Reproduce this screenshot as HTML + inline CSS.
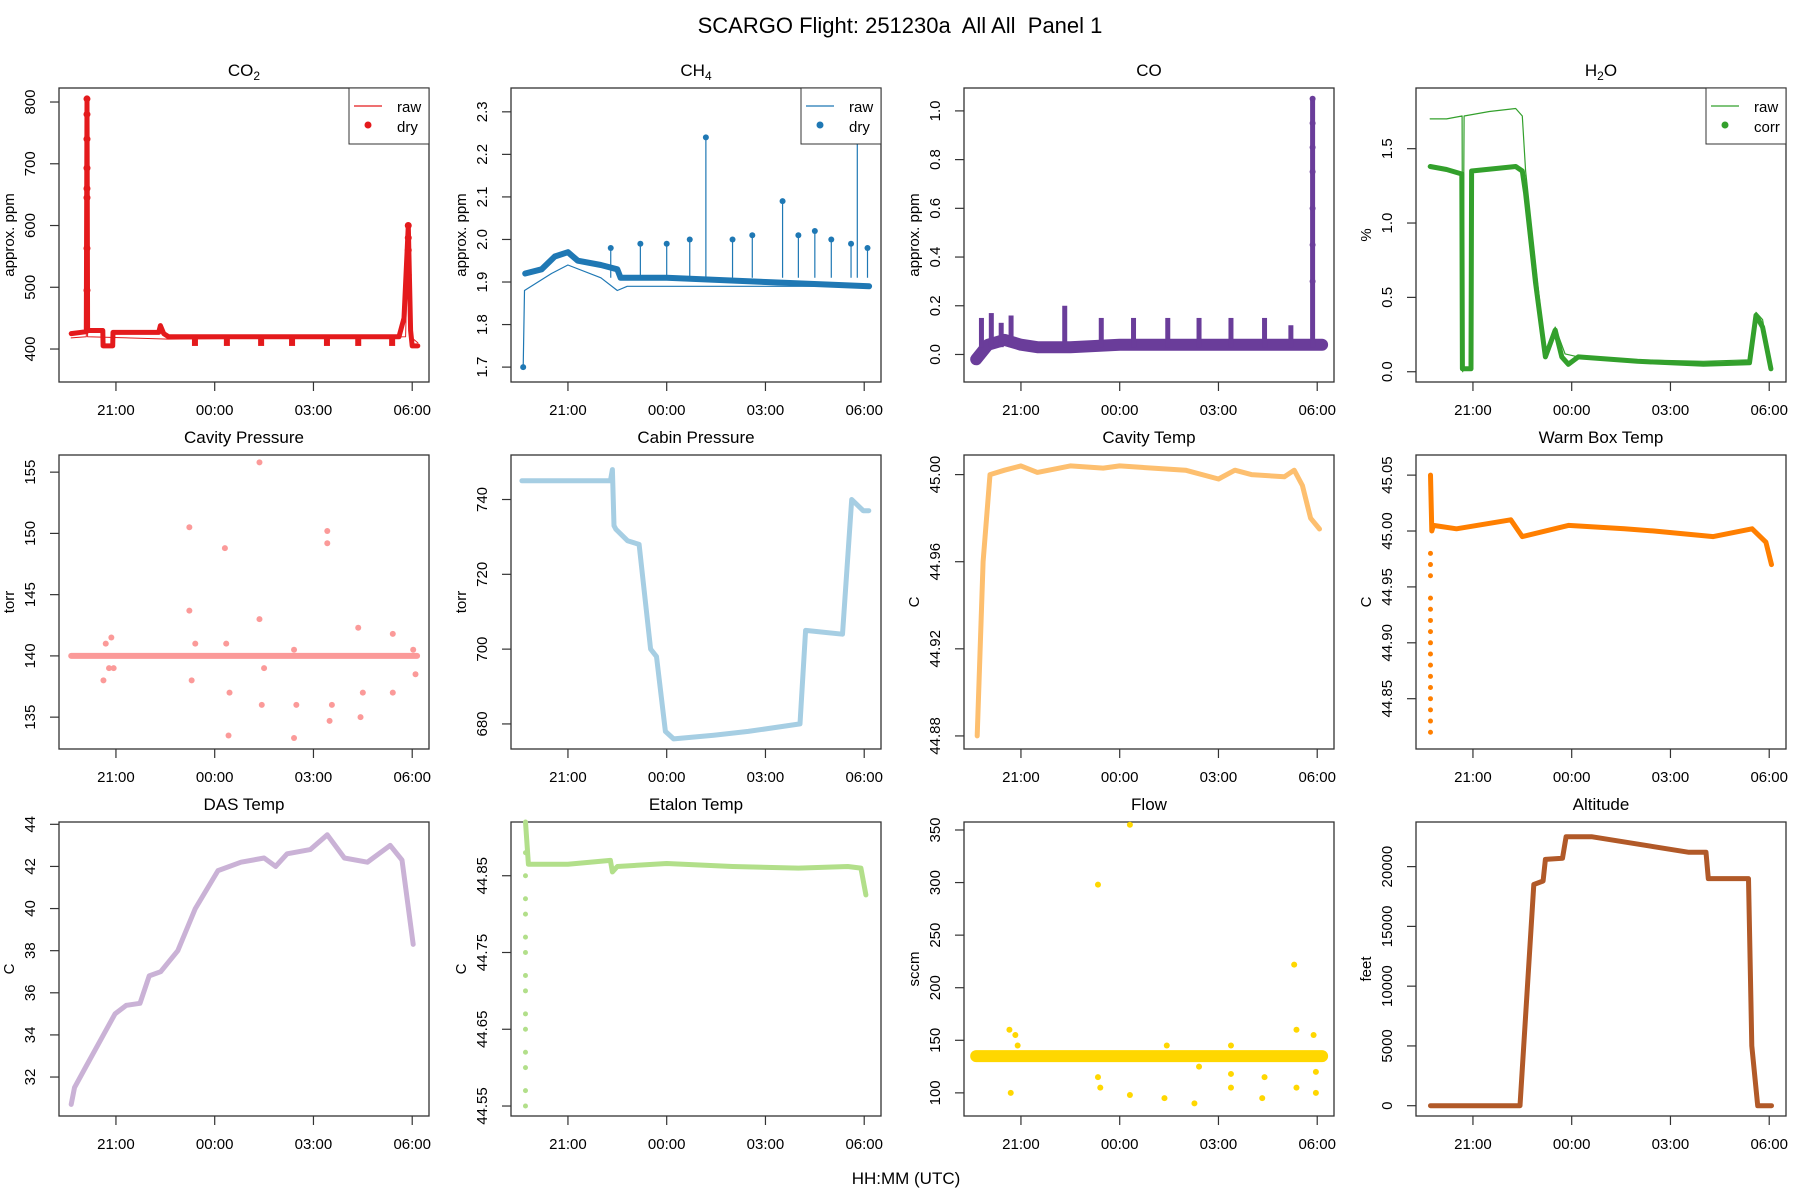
<!DOCTYPE html>
<html><head><meta charset="utf-8"><style>
html,body{margin:0;padding:0;background:#fff}
svg{display:block;font-family:"Liberation Sans",sans-serif}
text{white-space:pre}
</style></head><body>
<svg id="chart" width="1800" height="1200" viewBox="0 0 1800 1200">
<text x="900" y="33" font-size="22" text-anchor="middle" xml:space="preserve">SCARGO Flight: 251230a  All All  Panel 1</text>
<text x="906" y="1184" font-size="17" text-anchor="middle">HH:MM (UTC)</text>
</svg>
<script>
// time in hours after 21:00
const xTickVals=[0,3,6,9];
const xTickLabels=["21:00","00:00","03:00","06:00"];
// CO2
const co2T=[-1.36,-0.9,-0.88,-0.86,-0.4,-0.39,-0.1,-0.09,1.3,1.35,1.45,1.6,8.6,8.75,8.88,8.95,9.0,9.17];
const co2Dry=[425,428,805,430,430,405,405,427,427,438,425,420,420,450,600,430,405,405];
const co2RawT=[-1.36,-0.9,-0.88,-0.86,1.6,8.8,8.88,8.95,9.17];
const co2Raw=[418,420,805,420,416,420,600,420,410];
const co2DipT=[2.40,3.37,4.41,5.35,6.41,7.36,8.39];
const co2DipV=[405,405,405,405,405,405,405];
const co2SpikeT=[-0.88,-0.88,-0.88,-0.88,-0.88,-0.88,-0.88,-0.88,8.88,8.88,8.88,8.88];
const co2SpikeV=[805,780,740,693,660,645,563,495,600,580,560,520];
// CH4
const ch4RawT=[-1.36,-1.32,-0.5,0,1.0,1.5,1.8,9.15];
const ch4Raw=[1.70,1.88,1.92,1.94,1.91,1.88,1.89,1.89];
const ch4DryT=[-1.3,-0.8,-0.4,0,0.3,1.0,1.5,1.6,3,6,9.15];
const ch4Dry=[1.92,1.93,1.96,1.97,1.95,1.94,1.93,1.91,1.91,1.90,1.89];
const ch4SpikeT=[1.3,2.2,3.0,3.7,4.19,5.0,5.6,6.52,7.0,7.5,8.0,8.6,8.79,9.1];
const ch4SpikeV=[1.98,1.99,1.99,2.00,2.24,2.00,2.01,2.09,2.01,2.02,2.00,1.99,2.23,1.98];
// CO
const coT=[-1.36,-1.0,-0.5,0,0.5,1.5,3,6,9.15];
const coV=[-0.02,0.04,0.06,0.04,0.03,0.03,0.04,0.04,0.04];
const coSpikeT=[-1.2,-0.9,-0.6,-0.3,1.33,2.44,3.42,4.46,5.41,6.38,7.4,8.2,8.86];
const coSpikeV=[0.15,0.17,0.13,0.16,0.2,0.15,0.15,0.15,0.15,0.15,0.15,0.12,1.05];
// H2O
const h2oRawT=[-1.3,-0.8,-0.33,-0.31,-0.27,0.5,1.3,1.5,1.6,2.2,2.5,2.8,3.2,5,7,8.4,8.6,8.8,9.05];
const h2oRaw=[1.70,1.70,1.72,0.0,1.72,1.75,1.77,1.72,1.35,0.12,0.3,0.12,0.1,0.08,0.07,0.08,0.4,0.35,0.02];
const h2oCorT=[-1.3,-0.8,-0.34,-0.32,-0.06,-0.04,1.3,1.5,1.6,1.9,2.2,2.5,2.7,2.9,3.2,5,7,8.4,8.6,8.8,9.05];
const h2oCor=[1.38,1.36,1.33,0.02,0.02,1.35,1.38,1.35,1.2,0.6,0.1,0.28,0.1,0.05,0.1,0.07,0.05,0.06,0.38,0.3,0.02];
// Cavity pressure
const cpT=[-1.36,9.15];
const cpV=[140,140];
const cpPtsT=[-0.38,-0.31,-0.21,-0.14,-0.07,2.23,2.23,2.30,2.41,3.31,3.35,3.42,3.45,4.36,4.36,4.43,4.50,5.41,5.48,5.41,6.42,6.42,6.49,6.56,7.36,7.43,7.50,8.41,8.41,9.03,9.10];
const cpPtsV=[138,141,139,141.5,139,150.5,143.7,138,141,148.8,141,133.5,137,155.8,143,136,139,133.3,136,140.5,150.2,149.2,134.7,136,142.3,135,137,141.8,137,140.5,138.5];
// Cabin pressure
const cabT=[-1.4,1.29,1.35,1.40,1.46,1.81,2.16,2.51,2.69,2.96,3.21,4.43,5.48,7.05,7.22,8.34,8.62,8.97,9.14];
const cabV=[745,745,748,733,732,729,728,700,698,678,676,677,678,680,705,704,740,737,737];
// Cavity temp
const ctT=[-1.33,-1.15,-0.94,-0.5,0,0.5,1.5,2.5,3,4,5,6,6.5,7,8,8.3,8.55,8.8,9.07];
const ctV=[44.88,44.96,45.0,45.002,45.004,45.001,45.004,45.003,45.004,45.003,45.002,44.998,45.002,45.0,44.999,45.002,44.995,44.98,44.975];
// Warm box temp
const wbT=[-1.29,-1.25,-1.2,-0.5,1.15,1.5,2.9,4.6,5.5,7.3,8.48,8.9,9.07];
const wbV=[45.05,45.0,45.005,45.002,45.01,44.995,45.005,45.002,45.0,44.995,45.002,44.99,44.97];
const wbScatT=[-1.29,-1.29,-1.29,-1.29,-1.29,-1.29,-1.29,-1.29,-1.29,-1.29,-1.29,-1.29,-1.29,-1.29,-1.29,-1.29];
const wbScatV=[44.82,44.83,44.84,44.85,44.86,44.87,44.88,44.89,44.9,44.91,44.92,44.93,44.94,44.96,44.97,44.98];
// DAS temp
const dasT=[-1.36,-1.26,-0.91,-0.38,-0.03,0.31,0.73,1.01,1.36,1.88,2.41,3.1,3.8,4.5,4.85,5.2,5.9,6.42,6.94,7.64,8.33,8.69,9.03];
const dasV=[30.7,31.5,32.5,34,35,35.4,35.5,36.8,37,38,40,41.8,42.2,42.4,42,42.6,42.8,43.5,42.4,42.2,43,42.3,38.3];
// Etalon temp
const etT=[-1.29,-1.2,0,1.29,1.35,1.5,3,5,7,8.5,8.9,9.05];
const etV=[44.92,44.865,44.865,44.87,44.855,44.862,44.866,44.862,44.86,44.862,44.86,44.825];
const etScatT=[-1.29,-1.29,-1.29,-1.29,-1.29,-1.29,-1.29,-1.29,-1.29,-1.29,-1.29,-1.29,-1.29,-1.29];
const etScatV=[44.55,44.57,44.6,44.62,44.65,44.67,44.7,44.72,44.75,44.77,44.8,44.82,44.85,44.88];
// Flow
const flT=[-1.36,9.15];
const flV=[135,135];
const flPtsT=[-0.35,-0.17,-0.31,-0.1,2.34,3.31,2.34,2.41,3.31,4.43,4.36,5.27,5.41,6.38,6.38,6.38,7.33,7.40,8.30,8.37,8.37,8.89,8.96,8.96];
const flPtsV=[160,155,100,145,298,355,115,105,98,145,95,90,125,145,105,118,95,115,222,160,105,155,100,120];
// Altitude
const altT=[-1.29,1.43,1.85,2.13,2.2,2.72,2.83,3.6,6.56,7.08,7.15,8.37,8.47,8.65,9.07];
const altV=[0,0,18500,18800,20600,20700,22500,22500,21200,21200,19000,19000,5000,0,0];

const svg=document.getElementById('chart');
const NS='http://www.w3.org/2000/svg';
const colX=[59,511,964,1416], rowY=[88,455,822], PW=370, PH=294;
const TDOM=[-1.73,9.51];
function el(tag,attrs,parent){const e=document.createElementNS(NS,tag);for(const k in attrs)e.setAttribute(k,attrs[k]);(parent||svg).appendChild(e);return e;}
function panel(c,r,ydom,yticks,ylab,title,sub,ylabels,after){
  const x0=colX[c],y0=rowY[r];
  const g=el('g',{});
  
  
  const p={g,x:t=>x0+(t-TDOM[0])/(TDOM[1]-TDOM[0])*PW,y:v=>y0+PH-(v-ydom[0])/(ydom[1]-ydom[0])*PH,x0,y0};
  const box=el('rect',{x:x0,y:y0,width:PW,height:PH,fill:'none',stroke:'#333','stroke-width':1.3},g);
  
  
  const tt=el('text',{x:x0+PW/2,y:y0-12,'font-size':17,'text-anchor':'middle'},g);
  tt.textContent=title;
  if(sub){const s=el('tspan',{'font-size':12,dy:4},tt);s.textContent=sub;}
  if(after){const s=el('tspan',{dy:-4},tt);s.textContent=after;}
  
  
  xTickVals.forEach((t,i)=>{const X=p.x(t);
    el('line',{x1:X,x2:X,y1:y0+PH,y2:y0+PH+9,stroke:'#333','stroke-width':1.2},g);
    const lb=el('text',{x:X,y:y0+PH+33,'font-size':15,'text-anchor':'middle'},g);lb.textContent=xTickLabels[i];
    
    });
  yticks.forEach((v,i)=>{const Y=p.y(v);
    el('line',{x1:x0-9,x2:x0,y1:Y,y2:Y,stroke:'#333','stroke-width':1.2},g);
    const lb=el('text',{x:x0-24,y:Y,'font-size':15,'text-anchor':'middle',transform:`rotate(-90 ${x0-24} ${Y})`},g);
    lb.textContent=ylabels[i];
    
    });
  const yl=el('text',{x:x0-45,y:y0+PH/2,'font-size':15,'text-anchor':'middle',transform:`rotate(-90 ${x0-45} ${y0+PH/2})`},g);
  yl.textContent=ylab;
  
  
  return p;
}
function line(p,ts,vs,color,w){const pts=ts.map((t,i)=>p.x(t).toFixed(1)+','+p.y(vs[i]).toFixed(1)).join(' ');
  const l=el('polyline',{points:pts,fill:'none',stroke:color,'stroke-width':w,'stroke-linejoin':'round','stroke-linecap':'round'},p.g);
  
  return l;}
function dots(p,ts,vs,color,r){ts.forEach((t,i)=>{const c=el('circle',{cx:p.x(t),cy:p.y(vs[i]),r:r,fill:color},p.g);
  
  });}
function spikes(p,ts,vs,base,color,w){ts.forEach((t,i)=>{const l=el('line',{x1:p.x(t),x2:p.x(t),y1:p.y(base),y2:p.y(vs[i]),stroke:color,'stroke-width':w},p.g);
  
  });}
function legend(p,items,color){const x=p.x0+PW-80,y=p.y0;
  const lg=el('g',{},p.g);
  
  
  el('rect',{x:x,y:y,width:80,height:56,fill:'#fff',stroke:'#333','stroke-width':1},lg);
  el('line',{x1:x+5,x2:x+33,y1:y+18,y2:y+18,stroke:color,'stroke-width':1.2},lg);
  el('circle',{cx:x+19,cy:y+37,r:3.5,fill:color},lg);
  items.forEach((s,i)=>{const t=el('text',{x:x+48,y:y+24+i*20,'font-size':15},lg);t.textContent=s;
    
    });}

let p;
p=panel(0,0,[346.6,822.7],[400,500,600,700,800],'approx. ppm','CO','2',["400","500","600","700","800"]);
line(p,co2RawT,co2Raw,'#E41A1C',1);line(p,co2T,co2Dry,'#E41A1C',5);
spikes(p,co2DipT,co2DipV,420,'#E41A1C',6);dots(p,co2SpikeT,co2SpikeV,'#E41A1C',3.5);
legend(p,['raw','dry'],'#E41A1C');

p=panel(1,0,[1.665,2.356],[1.7,1.8,1.9,2.0,2.1,2.2,2.3],'approx. ppm','CH','4',["1.7","1.8","1.9","2.0","2.1","2.2","2.3"]);
line(p,ch4RawT,ch4Raw,'#1F78B4',1.2);line(p,ch4DryT,ch4Dry,'#1F78B4',6);
spikes(p,ch4SpikeT,ch4SpikeV,1.91,'#1F78B4',1.2);dots(p,ch4SpikeT,ch4SpikeV,'#1F78B4',3);
dots(p,[-1.36],[1.70],'#1F78B4',3);
legend(p,['raw','dry'],'#1F78B4');

p=panel(2,0,[-0.113,1.094],[0.0,0.2,0.4,0.6,0.8,1.0],'approx. ppm','CO','',["0.0","0.2","0.4","0.6","0.8","1.0"]);
line(p,coT,coV,'#6A3D9A',12);spikes(p,coSpikeT,coSpikeV,0.03,'#6A3D9A',5);
dots(p,[8.86,8.86,8.86,8.86,8.86,8.86,8.86],[1.05,0.95,0.85,0.75,0.6,0.45,0.3],'#6A3D9A',3);

p=panel(3,0,[-0.069,1.908],[0.0,0.5,1.0,1.5],'%','H','2',["0.0","0.5","1.0","1.5"],'O');
line(p,h2oRawT,h2oRaw,'#33A02C',1.2);line(p,h2oCorT,h2oCor,'#33A02C',5);
legend(p,['raw','corr'],'#33A02C');

p=panel(0,1,[132.4,156.4],[135,140,145,150,155],'torr','Cavity Pressure','',["135","140","145","150","155"]);
line(p,cpT,cpV,'#FB9A99',6);dots(p,cpPtsT,cpPtsV,'#FB9A99',3);

p=panel(1,1,[673.3,751.9],[680,700,720,740],'torr','Cabin Pressure','',["680","700","720","740"]);
line(p,cabT,cabV,'#A6CEE3',5);

p=panel(2,1,[44.874,45.009],[44.88,44.92,44.96,45.00],'C','Cavity Temp','',["44.88","44.92","44.96","45.00"]);
line(p,ctT,ctV,'#FDBF6F',5);

p=panel(3,1,[44.805,45.068],[44.85,44.90,44.95,45.00,45.05],'C','Warm Box Temp','',["44.85","44.90","44.95","45.00","45.05"]);
line(p,wbT,wbV,'#FF7F00',5);dots(p,wbScatT,wbScatV,'#FF7F00',2.5);

p=panel(0,2,[30.15,44.11],[32,34,36,38,40,42,44],'C','DAS Temp','',["32","34","36","38","40","42","44"]);
line(p,dasT,dasV,'#CAB2D6',5);

p=panel(1,2,[44.537,44.92],[44.55,44.65,44.75,44.85],'C','Etalon Temp','',["44.55","44.65","44.75","44.85"]);
line(p,etT,etV,'#B2DF8A',5);dots(p,etScatT,etScatV,'#B2DF8A',2.5);

p=panel(2,2,[78,357.6],[100,150,200,250,300,350],'sccm','Flow','',["100","150","200","250","300","350"]);
line(p,flT,flV,'#FFD700',12);dots(p,flPtsT,flPtsV,'#FFD700',3);

p=panel(3,2,[-861,23732],[0,5000,10000,15000,20000],'feet','Altitude','',["0","5000","10000","15000","20000"]);
line(p,altT,altV,'#B15928',5);
</script>
</body></html>
